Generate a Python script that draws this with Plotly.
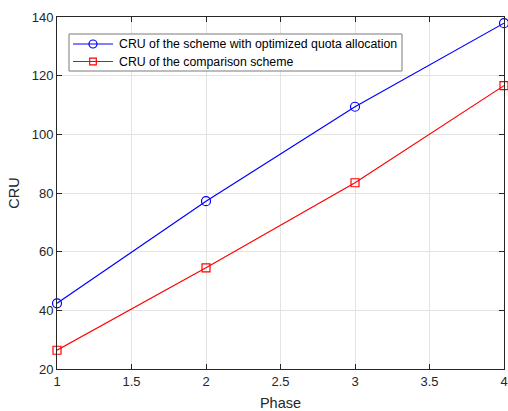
import plotly.graph_objects as go

phase = [1, 2, 3, 4]
cru_optimized = [42.4, 77.2, 109.4, 137.9]
cru_comparison = [26.4, 54.5, 83.5, 116.6]
x_ticks = [1, 1.5, 2, 2.5, 3, 3.5, 4]
y_ticks = [20, 40, 60, 80, 100, 120, 140]
series_names = ["CRU of the scheme with optimized quota allocation",
                "CRU of the comparison scheme"]
series_colors = ["#0000ff", "#ff0000"]

FONT = "Liberation Sans, Arial, sans-serif"
W, H = 508, 411
ML, MR, MT, MB = 57, 4, 17, 42
PW, PH = W - ML - MR, H - MT - MB

def px(x):
    return (x - ML) / PW

def py(y):
    return (H - MB - y) / PH

fig = go.Figure()
fig.add_trace(go.Scatter(
    x=phase, y=cru_optimized, mode="lines+markers", name=series_names[0],
    line=dict(color=series_colors[0], width=1.2),
    marker=dict(symbol="circle-open", size=9, color=series_colors[0], line=dict(width=1.2)),
    showlegend=False, cliponaxis=False,
))
fig.add_trace(go.Scatter(
    x=phase, y=cru_comparison, mode="lines+markers", name=series_names[1],
    line=dict(color=series_colors[1], width=1.2),
    marker=dict(symbol="square-open", size=8, color=series_colors[1], line=dict(width=1.2)),
    showlegend=False, cliponaxis=False,
))

axis_common = dict(
    automargin=False,
    showgrid=True, gridcolor="#e3e3e3", gridwidth=1,
    showline=True, linecolor="#262626", linewidth=1, mirror="ticks",
    ticks="inside", ticklen=5, tickcolor="#262626", tickwidth=1,
    zeroline=False,
    tickfont=dict(family=FONT, size=13, color="#262626"),
    title_font=dict(family=FONT, size=14.5, color="#262626"),
)

# manual legend (MATLAB style)
shapes = [dict(type="rect", xref="paper", yref="paper",
               x0=px(69), x1=px(402), y0=py(71), y1=py(34),
               line=dict(color="#7a7a7a", width=1), fillcolor="white", layer="above")]
annotations = []
item_y = [44, 61.5]
for i, (nm, col) in enumerate(zip(series_names, series_colors)):
    yy = py(item_y[i])
    shapes.append(dict(type="line", xref="paper", yref="paper",
                       x0=px(73), x1=px(113), y0=yy, y1=yy,
                       line=dict(color=col, width=1.2), layer="above"))
    if i == 0:
        r = 4
        shapes.append(dict(type="circle", xref="paper", yref="paper",
                           x0=px(93 - r), x1=px(93 + r), y0=py(item_y[i] + r), y1=py(item_y[i] - r),
                           line=dict(color=col, width=1.2), fillcolor="rgba(0,0,0,0)", layer="above"))
    else:
        r = 3.3
        shapes.append(dict(type="rect", xref="paper", yref="paper",
                           x0=px(93 - r), x1=px(93 + r), y0=py(item_y[i] + r), y1=py(item_y[i] - r),
                           line=dict(color=col, width=1.2), fillcolor="rgba(0,0,0,0)", layer="above"))
    annotations.append(dict(xref="paper", yref="paper", x=px(117), y=yy,
                            xanchor="left", yanchor="middle", showarrow=False,
                            text=nm, font=dict(family=FONT, size=12.3, color="#000000")))

fig.update_layout(
    width=W, height=H,
    margin=dict(l=ML, r=MR, t=MT, b=MB),
    paper_bgcolor="white", plot_bgcolor="white",
    showlegend=False,
    shapes=shapes, annotations=annotations,
    xaxis=dict(range=[1, 4], tickvals=x_ticks, ticktext=[str(v) for v in x_ticks],
               title=dict(text="Phase", standoff=12), **axis_common),
    yaxis=dict(range=[20, 140], tickvals=y_ticks,
               title=dict(text="CRU", standoff=8), **axis_common),
)

fig.write_html("out.html")
